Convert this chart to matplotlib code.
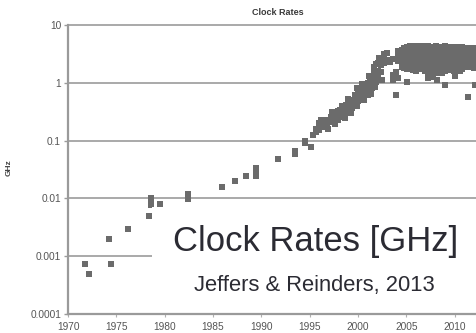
import numpy as np
import matplotlib
matplotlib.use("Agg")
import matplotlib.pyplot as plt
from matplotlib.patches import Rectangle

plt.rcParams['font.family'] = ['Liberation Sans', 'DejaVu Sans']

# Early processors (single points, read year by year)
early_years = [1971.8, 1972.2, 1974.25, 1974.45, 1976.25, 1978.4, 1978.6, 1978.6, 1978.6,
               1979.5, 1982.4, 1982.4, 1982.4, 1985.9, 1987.3, 1988.4, 1989.45, 1989.45,
               1989.45, 1991.7, 1993.45, 1993.45, 1994.5, 1994.5, 1995.1]
early_ghz = [0.00073, 0.00049, 0.00195, 0.00073, 0.0029, 0.0049, 0.0102, 0.0089, 0.0078,
             0.0079, 0.012, 0.011, 0.0098, 0.016, 0.020, 0.0247, 0.033, 0.028,
             0.0247, 0.049, 0.065, 0.059, 0.10, 0.091, 0.076]

# Steep ramp of the late 1990s
ramp_years = [1995.3, 1995.7, 1995.7, 1996.0, 1996.0, 1996.3, 1996.3, 1996.5, 1996.5,
              1996.8, 1996.8, 1997.2, 1997.2, 1997.5, 1997.5, 1997.9, 1997.9, 1997.9,
              1998.1, 1998.1, 1998.4, 1998.4, 1998.4, 1998.8, 1998.8, 1998.8,
              1999.1, 1999.1, 1999.1, 1999.4, 1999.4, 1999.4, 1999.7, 1999.7, 1999.7,
              2000.0, 2000.0, 2000.0, 2000.3, 2000.3, 2000.3, 2000.5, 2000.5, 2000.5,
              2000.8, 2000.8, 2000.8, 2001.0, 2001.0, 2001.0, 2001.2, 2001.2, 2001.2,
              2001.4, 2001.4, 2001.4, 2001.6, 2001.6, 2001.6, 2001.7, 2001.7,
              2001.9, 2001.9, 2001.9, 2002.1, 2002.1, 2002.1, 2002.4, 2002.4, 2002.4,
              2002.7, 2002.7, 2002.7, 2003.0, 2003.0, 2003.3, 2003.6, 2003.6, 2003.6,
              2003.95, 2003.95, 2003.95, 2004.1, 2004.1, 2004.1, 2004.1]
ramp_ghz = [0.125, 0.14, 0.16, 0.20, 0.15, 0.17, 0.19, 0.17, 0.21,
            0.19, 0.23, 0.26, 0.21, 0.24, 0.29, 0.23, 0.27, 0.32,
            0.34, 0.28, 0.30, 0.36, 0.26, 0.36, 0.30, 0.42,
            0.38, 0.46, 0.33, 0.40, 0.50, 0.36, 0.44, 0.62, 0.52,
            0.48, 0.58, 0.70, 0.50, 0.62, 0.78, 0.70, 0.58, 0.85,
            0.91, 0.70, 0.62, 0.62, 0.80, 1.0, 0.85, 1.1, 0.72,
            1.2, 0.8, 0.95, 1.3, 1.0, 1.6, 1.9, 1.15,
            1.46, 1.05, 2.1, 1.6, 1.3, 2.2, 1.55, 2.0, 2.6,
            2.8, 2.2, 3.1, 2.5, 3.3, 2.3, 1.36, 1.12, 2.6,
            0.62, 1.55, 1.28, 1.2, 2.4, 3.0, 3.6]

# Chips on the upper and lower edges of the ramp
ramp_edge_years = [1996.2, 1996.9, 1997.3, 1997.6, 1998.3, 1998.6, 1999.0, 1999.3,
                   1999.9, 1999.9, 2000.4, 2000.6, 2001.1, 2001.3, 2001.8, 2002.2, 2002.5]
ramp_edge_ghz = [0.23, 0.16, 0.31, 0.19, 0.40, 0.25, 0.52, 0.30,
                 0.80, 0.40, 0.95, 0.50, 1.3, 0.65, 0.85, 2.7, 1.1]

# Multi-core plateau after 2004
plateau_year = [2004.5, 2004.8, 2005.1, 2005.4, 2005.7, 2006.0, 2006.3, 2006.6, 2006.9,
                2007.2, 2007.5, 2007.8, 2008.1, 2008.4, 2008.7, 2009.0, 2009.3, 2009.6,
                2009.9, 2010.2, 2010.5, 2010.8, 2011.1, 2011.4, 2011.7, 2012.0]
plateau_ghz = [
    [3.7, 3.3, 2.9, 2.5, 2.2, 1.9],
    [4.0, 3.6, 3.2, 2.8, 2.4, 2.1, 1.8],
    [4.2, 3.8, 3.4, 3.0, 2.6, 2.3, 2.0, 1.75],
    [4.3, 3.9, 3.5, 3.0, 2.6, 2.2, 1.9],
    [4.1, 3.7, 3.3, 2.9, 2.5, 2.2, 1.9, 1.65],
    [4.3, 3.9, 3.5, 3.1, 2.7, 2.3, 2.0],
    [4.2, 3.8, 3.4, 3.0, 2.6, 2.3, 2.0, 1.7],
    [4.3, 3.9, 3.5, 3.1, 2.7, 2.4, 2.1, 1.8],
    [4.1, 3.7, 3.3, 2.9, 2.5, 2.2, 1.9, 1.6],
    [4.3, 3.9, 3.5, 3.0, 2.6, 2.3, 2.0, 1.7, 1.5],
    [4.2, 3.8, 3.4, 3.0, 2.6, 2.2, 1.9, 1.65],
    [4.1, 3.7, 3.3, 2.9, 2.5, 2.2, 1.9, 1.6, 1.4],
    [4.3, 3.9, 3.5, 3.0, 2.6, 2.3, 2.0, 1.7, 1.5],
    [4.0, 3.6, 3.2, 2.8, 2.4, 2.1, 1.8, 1.55],
    [4.2, 3.8, 3.4, 3.0, 2.6, 2.3, 2.0, 1.7, 1.45],
    [4.3, 3.9, 3.5, 3.0, 2.6, 2.2, 1.9, 1.6],
    [4.1, 3.7, 3.3, 2.9, 2.5, 2.2, 1.9, 1.65],
    [4.2, 3.8, 3.4, 3.0, 2.6, 2.3, 2.0, 1.7],
    [4.1, 3.7, 3.3, 2.9, 2.5, 2.2, 1.9, 1.6],
    [4.2, 3.8, 3.5, 3.0, 2.6, 2.3, 2.0, 1.75],
    [4.0, 3.6, 3.2, 2.8, 2.4, 2.1, 1.8, 1.6],
    [4.1, 3.7, 3.4, 3.0, 2.6, 2.3, 2.0, 1.75],
    [4.0, 3.6, 3.3, 2.9, 2.5, 2.2, 1.9],
    [3.95, 3.6, 3.2, 2.8, 2.4, 2.1, 1.85],
    [4.0, 3.6, 3.3, 2.9, 2.5, 2.2, 1.9],
    [3.95, 3.6, 3.2, 2.8, 2.4, 2.1, 1.8],
]
outlier_years = [2005.1, 2006.0, 2007.2, 2007.8, 2008.2, 2009.0, 2010.0, 2011.4, 2012.1]
outlier_ghz = [1.05, 1.6, 1.2, 1.25, 1.1, 0.9, 1.3, 0.57, 0.9]

y_ticks = [0.0001, 0.001, 0.01, 0.1, 1, 10]
y_labels = ['0.0001', '0.001', '0.01', '0.1', '1', '10']
x_ticks = [1970, 1975, 1980, 1985, 1990, 1995, 2000, 2005, 2010]

plat_x = [yr for yr, col in zip(plateau_year, plateau_ghz) for _ in col]
plat_y = [v for col in plateau_ghz for v in col]

fig = plt.figure(figsize=(4.76, 3.33), dpi=100)
ax = fig.add_axes([0.1429, 0.057, 0.8571, 0.868])

mk = dict(marker='s', ms=4.3, color='#6b6b6b', ls='none', mew=0)
for xs, ys in [(early_years, early_ghz), (ramp_years, ramp_ghz),
               (ramp_edge_years, ramp_edge_ghz),
               (plat_x, plat_y), (outlier_years, outlier_ghz)]:
    ax.plot(xs, ys, **mk, zorder=3)

ax.set_yscale('log')
ax.set_ylim(0.0001, 10)
ax.set_xlim(1970, 2012.2)
ax.set_yticks(y_ticks)
ax.set_yticklabels(y_labels)
ax.minorticks_off()
ax.set_xticks(x_ticks)
ax.set_xticklabels([str(t) for t in x_ticks])

for v in y_ticks[1:]:
    ax.axhline(v, color='#a9a9a9', lw=1.4, zorder=1, clip_on=False)

for s in ['top', 'right']:
    ax.spines[s].set_visible(False)
for s in ['left', 'bottom']:
    ax.spines[s].set_color('#9a9a9a')
    ax.spines[s].set_linewidth(1.6)

ax.tick_params(axis='y', direction='out', length=3, width=1, color='#9a9a9a',
               labelsize=7.3, labelcolor='#555555', pad=2)
ax.tick_params(axis='x', direction='out', length=2.5, width=0.8, color='#b0b0b0',
               labelsize=7.3, labelcolor='#555555', pad=3)

ax.set_ylabel('GHz', fontsize=6, fontweight='bold', color='#444444')
ax.yaxis.set_label_coords(-0.137, 0.505)

fig.text(0.584, 0.961, 'Clock Rates', fontsize=6.5, fontweight='bold',
         color='#3a3a3a', ha='center', va='center')

# White caption panel over the lower-right corner
fig.patches.append(Rectangle((152 / 476, 1 - 312 / 333), 1 - 152 / 476, (312 - 207) / 333,
                             transform=fig.transFigure, facecolor='white',
                             edgecolor='none', zorder=5))
fig.text(316 / 476, 1 - 242 / 333, 'Clock Rates [GHz]', fontsize=24.9,
         color='#2b2b33', ha='center', va='center', zorder=6)
fig.text(314 / 476, 1 - 286 / 333, 'Jeffers & Reinders, 2013', fontsize=15.8,
         color='#2b2b33', ha='center', va='center', zorder=6)

fig.savefig('out.png', dpi=100)
